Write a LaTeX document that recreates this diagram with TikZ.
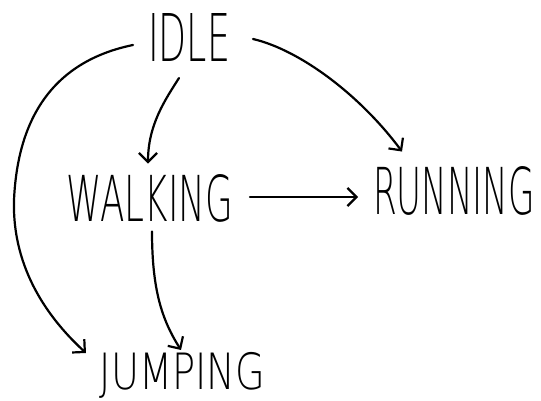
\documentclass[tikz,border=0pt]{standalone}
\usepackage{fontspec}
\usepackage{graphicx}
\usetikzlibrary{arrows.meta}
\newfontfamily\handfont{DejaVu Sans ExtraLight}
\tikzset{
  state/.style={inner sep=0pt, outer sep=0pt, font=\handfont},
  arr/.style={line width=2.2pt, line cap=round, line join=round,
    -{Straight Barb[length=9pt,width=18pt,line width=2.2pt]}}
}
\begin{document}
\begin{tikzpicture}[x=1pt,y=-1pt]
\fill[white] (0,0) rectangle (541,401);
\useasboundingbox (0,0) rectangle (541,401);
\node[state] (idle) at (189,37) {\resizebox{82pt}{48pt}{IDLE}};
\node[state] (walk) at (150,198.5) {\resizebox{166pt}{47pt}{WALKING}};
\node[state] (run) at (454,191) {\resizebox{162pt}{48pt}{RUNNING}};
\node[state] (jump) at (182.5,375) {\resizebox*{165pt}{46pt}{JUMPING}};
\draw[arr] ([shift={(-15,8)}]idle.west) .. controls (60,60) and (18,110) .. (14,200)
  .. controls (12,270) and (50,320) .. ([shift={(-14,1)}]jump.north west);
\draw[arr] ([shift={(-10,17)}]idle.south) .. controls (165,100) and (148,125) .. ([shift={(-2,-11)}]walk.north);
\draw[arr] ([shift={(23,2)}]idle.east) .. controls (300,50) and (360,95) .. ([shift={(-52,-15)}]run.north);
\draw[arr] ([shift={(17,-1.5)}]walk.east) -- ([shift={(-15,6)}]run.west);
\draw[arr] ([shift={(2,9)}]walk.south) .. controls (152,290) and (162,320) .. ([shift={(-1.5,-2)}]jump.north);
\end{tikzpicture}
\end{document}
